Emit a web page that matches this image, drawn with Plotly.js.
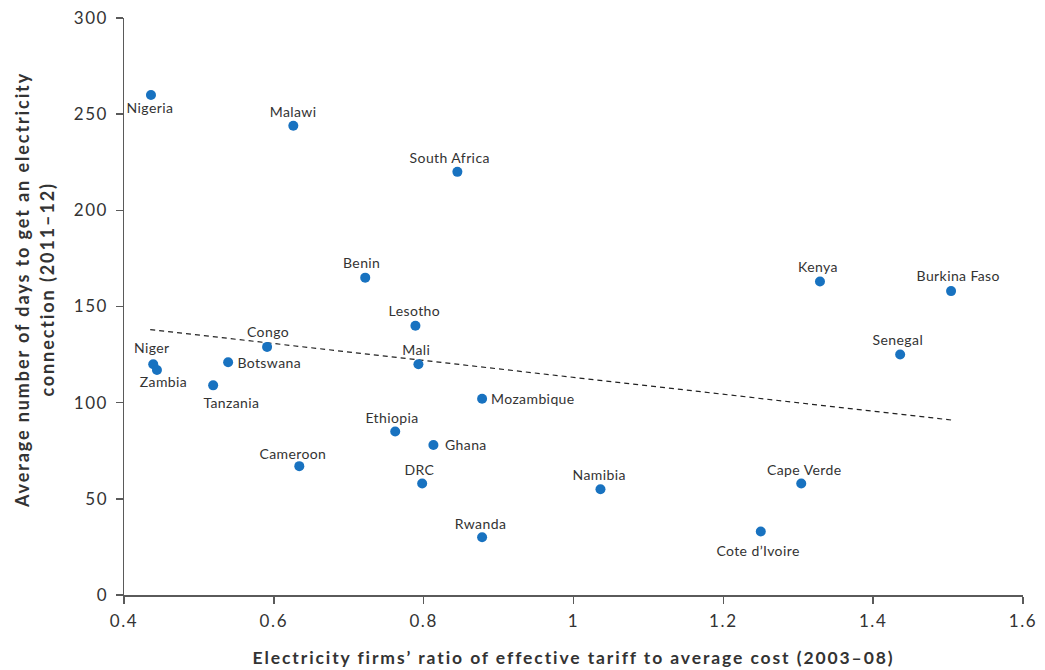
<!DOCTYPE html>
<html>
<head>
<meta charset="utf-8">
<script src="https://cdn.plot.ly/plotly-3.0.1.min.js"></script>
<style>
html,body{margin:0;padding:0;background:#fff;}
#chart{width:1045px;height:670px;}
#chart .xtitle{letter-spacing:1.9px;}
#chart .xtick text, #chart .ytick text{letter-spacing:1.6px;}
#chart .annotation-text{letter-spacing:0.4px;}
#chart .annotation[data-index="23"] .annotation-text,
#chart .annotation[data-index="24"] .annotation-text{letter-spacing:1.9px;}
</style>
</head>
<body>
<div id="chart"></div>
<script>
const countries = ["Nigeria","Malawi","South Africa","Benin","Kenya","Burkina Faso","Lesotho","Congo","Senegal","Botswana","Niger","Zambia","Mali","Tanzania","Mozambique","Ethiopia","Ghana","Cameroon","DRC","Namibia","Cape Verde","Cote d\u2019Ivoire","Rwanda"];
const tariffRatio = [0.436,0.626,0.845,0.722,1.329,1.504,0.789,0.591,1.436,0.539,0.439,0.444,0.793,0.519,0.878,0.762,0.813,0.634,0.798,1.036,1.304,1.250,0.878];
const daysToConnect = [260,244,220,165,163,158,140,129,125,121,120,117,120,109,102,85,78,67,58,55,58,33,30];
const trendX = [0.435, 1.504];
const trendY = [138, 91];
const xTicks = [0.4,0.6,0.8,1,1.2,1.4,1.6];
const xTickLabels = ["0.4","0.6","0.8","1","1.2","1.4","1.6"];
const yTicks = [0,50,100,150,200,250,300];
const xTitle = "<b>Electricity firms\u2019 ratio of effective tariff to average cost (2003\u201308)</b>";
const yTitleLines = ["<b>Average number of days to get an electricity</b>", "<b>connection (2011\u201312)</b>"];

// label placement (pixel offsets from each marker; styling only)
const labelStyle = [
  ["center",-1,-13],["center",0,14],["center",-8,14],["center",-4,15],["center",-2,15],
  ["center",7,16],["center",-1,15],["center",1,15],["center",-2,15],["left",9,0],
  ["center",-1,17],["center",7,-12],["center",-2,15],["center",18,-17],["left",9,0],
  ["center",-3,14],["left",11,0],["center",-6,13],["center",-3,14],["center",-1,15],
  ["center",3,14],["center",-3,-19],["center",-2,14]
];

const FONT = "Lato, 'Open Sans', sans-serif";
const traces = [
  {
    x: trendX, y: trendY, mode: "lines", type: "scatter",
    line: {color: "#222", width: 1.2, dash: "5px,4px"},
    hoverinfo: "skip", showlegend: false
  },
  {
    x: tariffRatio, y: daysToConnect,
    mode: "markers", type: "scatter",
    marker: {color: "#1872c0", size: 10},
    showlegend: false
  }
];
const annotations = countries.map((c, i) => ({
  x: tariffRatio[i], y: daysToConnect[i], text: c, showarrow: false,
  xanchor: labelStyle[i][0], yanchor: "middle",
  xshift: labelStyle[i][1], yshift: labelStyle[i][2],
  font: {family: FONT, size: 14, color: "#333"}
}));
// y-axis title, two lines
[[-102.5], [-77]].forEach((s, k) => {
  annotations.push({
    xref: "paper", yref: "paper", x: 0, y: 0.529, xshift: s[0],
    xanchor: "center", yanchor: "middle", textangle: -90, showarrow: false,
    text: yTitleLines[k], font: {family: FONT, size: 18, color: "#333"}
  });
});
const axisCommon = {
  showgrid: false, zeroline: false, showline: true,
  linecolor: "#5a5a5a", linewidth: 1.5,
  ticks: "outside", ticklen: 7, tickcolor: "#5a5a5a", tickwidth: 1.5,
  tickfont: {family: FONT, size: 17, color: "#333"}
};
const layout = {
  width: 1045, height: 670,
  margin: {l: 124, r: 22, t: 18, b: 75},
  paper_bgcolor: "#fff", plot_bgcolor: "#fff",
  annotations: annotations,
  xaxis: Object.assign({}, axisCommon, {
    range: [0.4, 1.6], tickvals: xTicks, ticktext: xTickLabels, ticklabelstandoff: 3,
    title: {text: xTitle, font: {family: FONT, size: 17.5, color: "#333"}, standoff: 22}
  }),
  yaxis: Object.assign({}, axisCommon, {
    range: [0, 300], tickvals: yTicks, ticklabelstandoff: 4
  })
};
Plotly.newPlot("chart", traces, layout, {displayModeBar: false, staticPlot: true});
</script>
</body>
</html>
